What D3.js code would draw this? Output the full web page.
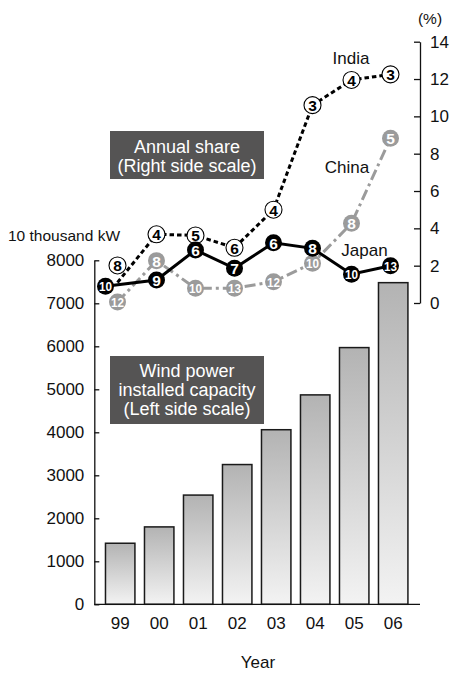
<!DOCTYPE html>
<html>
<head>
<meta charset="utf-8">
<script src="https://cdn.jsdelivr.net/npm/d3@7"></script>
<style>
  html, body { margin: 0; padding: 0; background: #fff; }
  svg { display: block; font-family: "Liberation Sans", Arial, Helvetica, sans-serif; }
</style>
</head>
<body>
<svg id="chart" width="456" height="673"></svg>
<script>
// ---- data ----
const years = ["99", "00", "01", "02", "03", "04", "05", "06"];
const capacity = [1420, 1800, 2540, 3250, 4060, 4870, 5970, 7480]; // 10 thousand kW
const leftTicks = [0, 1000, 2000, 3000, 4000, 5000, 6000, 7000, 8000];
const rightTicks = [0, 2, 4, 6, 8, 10, 12, 14];

const indiaShare = [1.1, 3.68, 3.62, 2.96, 5.0, 10.6, 11.95, 12.25];
const indiaRank  = [8, 4, 5, 6, 4, 3, 4, 3];
const chinaShare = [0.05, 2.27, 0.79, 0.79, 1.14, 2.13, 4.27, 8.83];
const chinaRank  = [12, 8, 10, 13, 12, 10, 8, 5];
const japanShare = [0.9, 1.23, 2.84, 1.86, 3.23, 2.93, 1.54, 2.0];
const japanRank  = [10, 9, 6, 7, 6, 8, 10, 13];

// ---- layout ----
const svg = d3.select("#chart");
const FONT = 17;

const x = d3.scaleBand().domain(years).range([100.7, 412.7]).paddingInner(0.245).paddingOuter(0.1225);
const yL = d3.scaleLinear().domain([0, 8000]).range([604.3, 260.3]);
const yR = d3.scaleLinear().domain([0, 14]).range([303, 41.7]);

const defs = svg.append("defs");
const grad = defs.append("linearGradient").attr("id", "barGrad")
  .attr("x1", 0).attr("y1", 0).attr("x2", 0).attr("y2", 1);
grad.append("stop").attr("offset", "0%").attr("stop-color", "#b3b3b3");
grad.append("stop").attr("offset", "100%").attr("stop-color", "#f3f3f3");

// bars
svg.append("g").selectAll("rect").data(years).join("rect")
  .attr("x", d => x(d))
  .attr("y", (d, i) => yL(capacity[i]))
  .attr("width", x.bandwidth())
  .attr("height", (d, i) => yL(0) - yL(capacity[i]))
  .attr("fill", "url(#barGrad)")
  .attr("stroke", "#1a1a1a")
  .attr("stroke-width", 1.5);

// left axis
const gL = svg.append("g").attr("transform", "translate(94.3,0)")
  .call(d3.axisLeft(yL).tickValues(leftTicks).tickFormat(d3.format("d"))
    .tickSizeInner(-5).tickSizeOuter(0).tickPadding(10));
gL.selectAll("text").attr("font-size", FONT).attr("font-family", null).attr("fill", "#111");
gL.selectAll("line, path").attr("stroke", "#111").attr("stroke-width", 1.3);

// right axis
const gR = svg.append("g").attr("transform", "translate(420,0)")
  .call(d3.axisRight(yR).tickValues(rightTicks).tickFormat(d3.format("d"))
    .tickSizeInner(-6).tickSizeOuter(0).tickPadding(10));
gR.selectAll("text").attr("font-size", FONT).attr("font-family", null).attr("fill", "#111");
gR.selectAll("line, path").attr("stroke", "#111").attr("stroke-width", 1.3);

// bottom axis
const gB = svg.append("g").attr("transform", `translate(0,${yL(0)})`)
  .call(d3.axisBottom(x).tickSize(0).tickPadding(13));
gB.select(".domain").remove();
gB.selectAll("text").attr("font-size", FONT).attr("font-family", null).attr("fill", "#111");
svg.append("line").attr("x1", 94.3).attr("x2", 420).attr("y1", yL(0)).attr("y2", yL(0))
  .attr("stroke", "#111").attr("stroke-width", 1.3);

// axis titles
svg.append("text").attr("x", 8).attr("y", 241).attr("font-size", 15.5).attr("fill", "#111").text("10 thousand kW");
svg.append("text").attr("x", 430).attr("y", 24).attr("text-anchor", "middle").attr("font-size", 15.5).attr("fill", "#111").text("(%)");
svg.append("text").attr("x", 258).attr("y", 668).attr("text-anchor", "middle").attr("font-size", FONT).attr("fill", "#111").text("Year");

// label boxes
function box(x0, y0, w, h, lines, lineY) {
  svg.append("rect").attr("x", x0).attr("y", y0).attr("width", w).attr("height", h).attr("fill", "#555454");
  lines.forEach((t, i) => {
    svg.append("text").attr("x", x0 + w / 2).attr("y", lineY[i]).attr("text-anchor", "middle")
      .attr("dominant-baseline", "central").attr("font-size", 18).attr("fill", "#fff").text(t);
  });
}
box(110, 131, 154, 48, ["Annual share", "(Right side scale)"], [147, 166]);
box(110, 356, 154, 68, ["Wind power", "installed capacity", "(Left side scale)"], [371, 390, 409]);

// ---- share lines ----
const px = (i) => x(years[i]) + x.bandwidth() / 2 - 2.7;
// first-year marker nudges to avoid overlaps (layout only)
const nudge = {
  india: { dx: 0, dy: -17, line: false },
  china: { dx: 0, dy: 0, line: false },
  japan: { dx: -12, dy: 0, line: true }
};

const series = [
  { key: "china", share: chinaShare, rank: chinaRank, color: "#9b9b9b", dash: "11,4,3,4", fill: "#9b9b9b", text: "#fff", stroke: "none" },
  { key: "india", share: indiaShare, rank: indiaRank, color: "#000", dash: "4.5,3", fill: "#fff", text: "#000", stroke: "#000" },
  { key: "japan", share: japanShare, rank: japanRank, color: "#000", dash: null, fill: "#000", text: "#fff", stroke: "none" }
];

series.forEach(s => {
  const n = nudge[s.key];
  const pts = s.share.map((v, i) => [px(i) + (i === 0 && n.line ? n.dx : 0), yR(v) + (i === 0 && n.line ? n.dy : 0)]);
  svg.append("path").attr("d", d3.line()(pts)).attr("fill", "none")
    .attr("stroke", s.color).attr("stroke-width", 3)
    .attr("stroke-dasharray", s.dash);
});

series.forEach(s => {
  const n = nudge[s.key];
  const g = svg.append("g");
  s.share.forEach((v, i) => {
    const cx = px(i) + (i === 0 ? n.dx : 0);
    const cy = yR(v) + (i === 0 ? n.dy : 0);
    g.append("circle").attr("cx", cx).attr("cy", cy).attr("r", 8.5)
      .attr("fill", s.fill).attr("stroke", s.stroke).attr("stroke-width", 1.1);
    const label = String(s.rank[i]);
    const t = g.append("text").attr("x", cx).attr("y", cy + 0.5).attr("text-anchor", "middle")
      .attr("dominant-baseline", "central").attr("font-weight", "bold")
      .attr("font-size", label.length > 1 ? 13.5 : 15.5).attr("fill", s.text).text(label);
    if (label.length > 1) t.attr("textLength", 13).attr("lengthAdjust", "spacingAndGlyphs");
  });
});

// series names
svg.append("text").attr("x", 351).attr("y", 58.5).attr("text-anchor", "middle").attr("dominant-baseline", "central").attr("font-size", FONT).attr("fill", "#111").text("India");
svg.append("text").attr("x", 347).attr("y", 167).attr("text-anchor", "middle").attr("dominant-baseline", "central").attr("font-size", FONT).attr("fill", "#111").text("China");
svg.append("text").attr("x", 364.5).attr("y", 250).attr("text-anchor", "middle").attr("dominant-baseline", "central").attr("font-size", FONT).attr("fill", "#111").text("Japan");
</script>
</body>
</html>
